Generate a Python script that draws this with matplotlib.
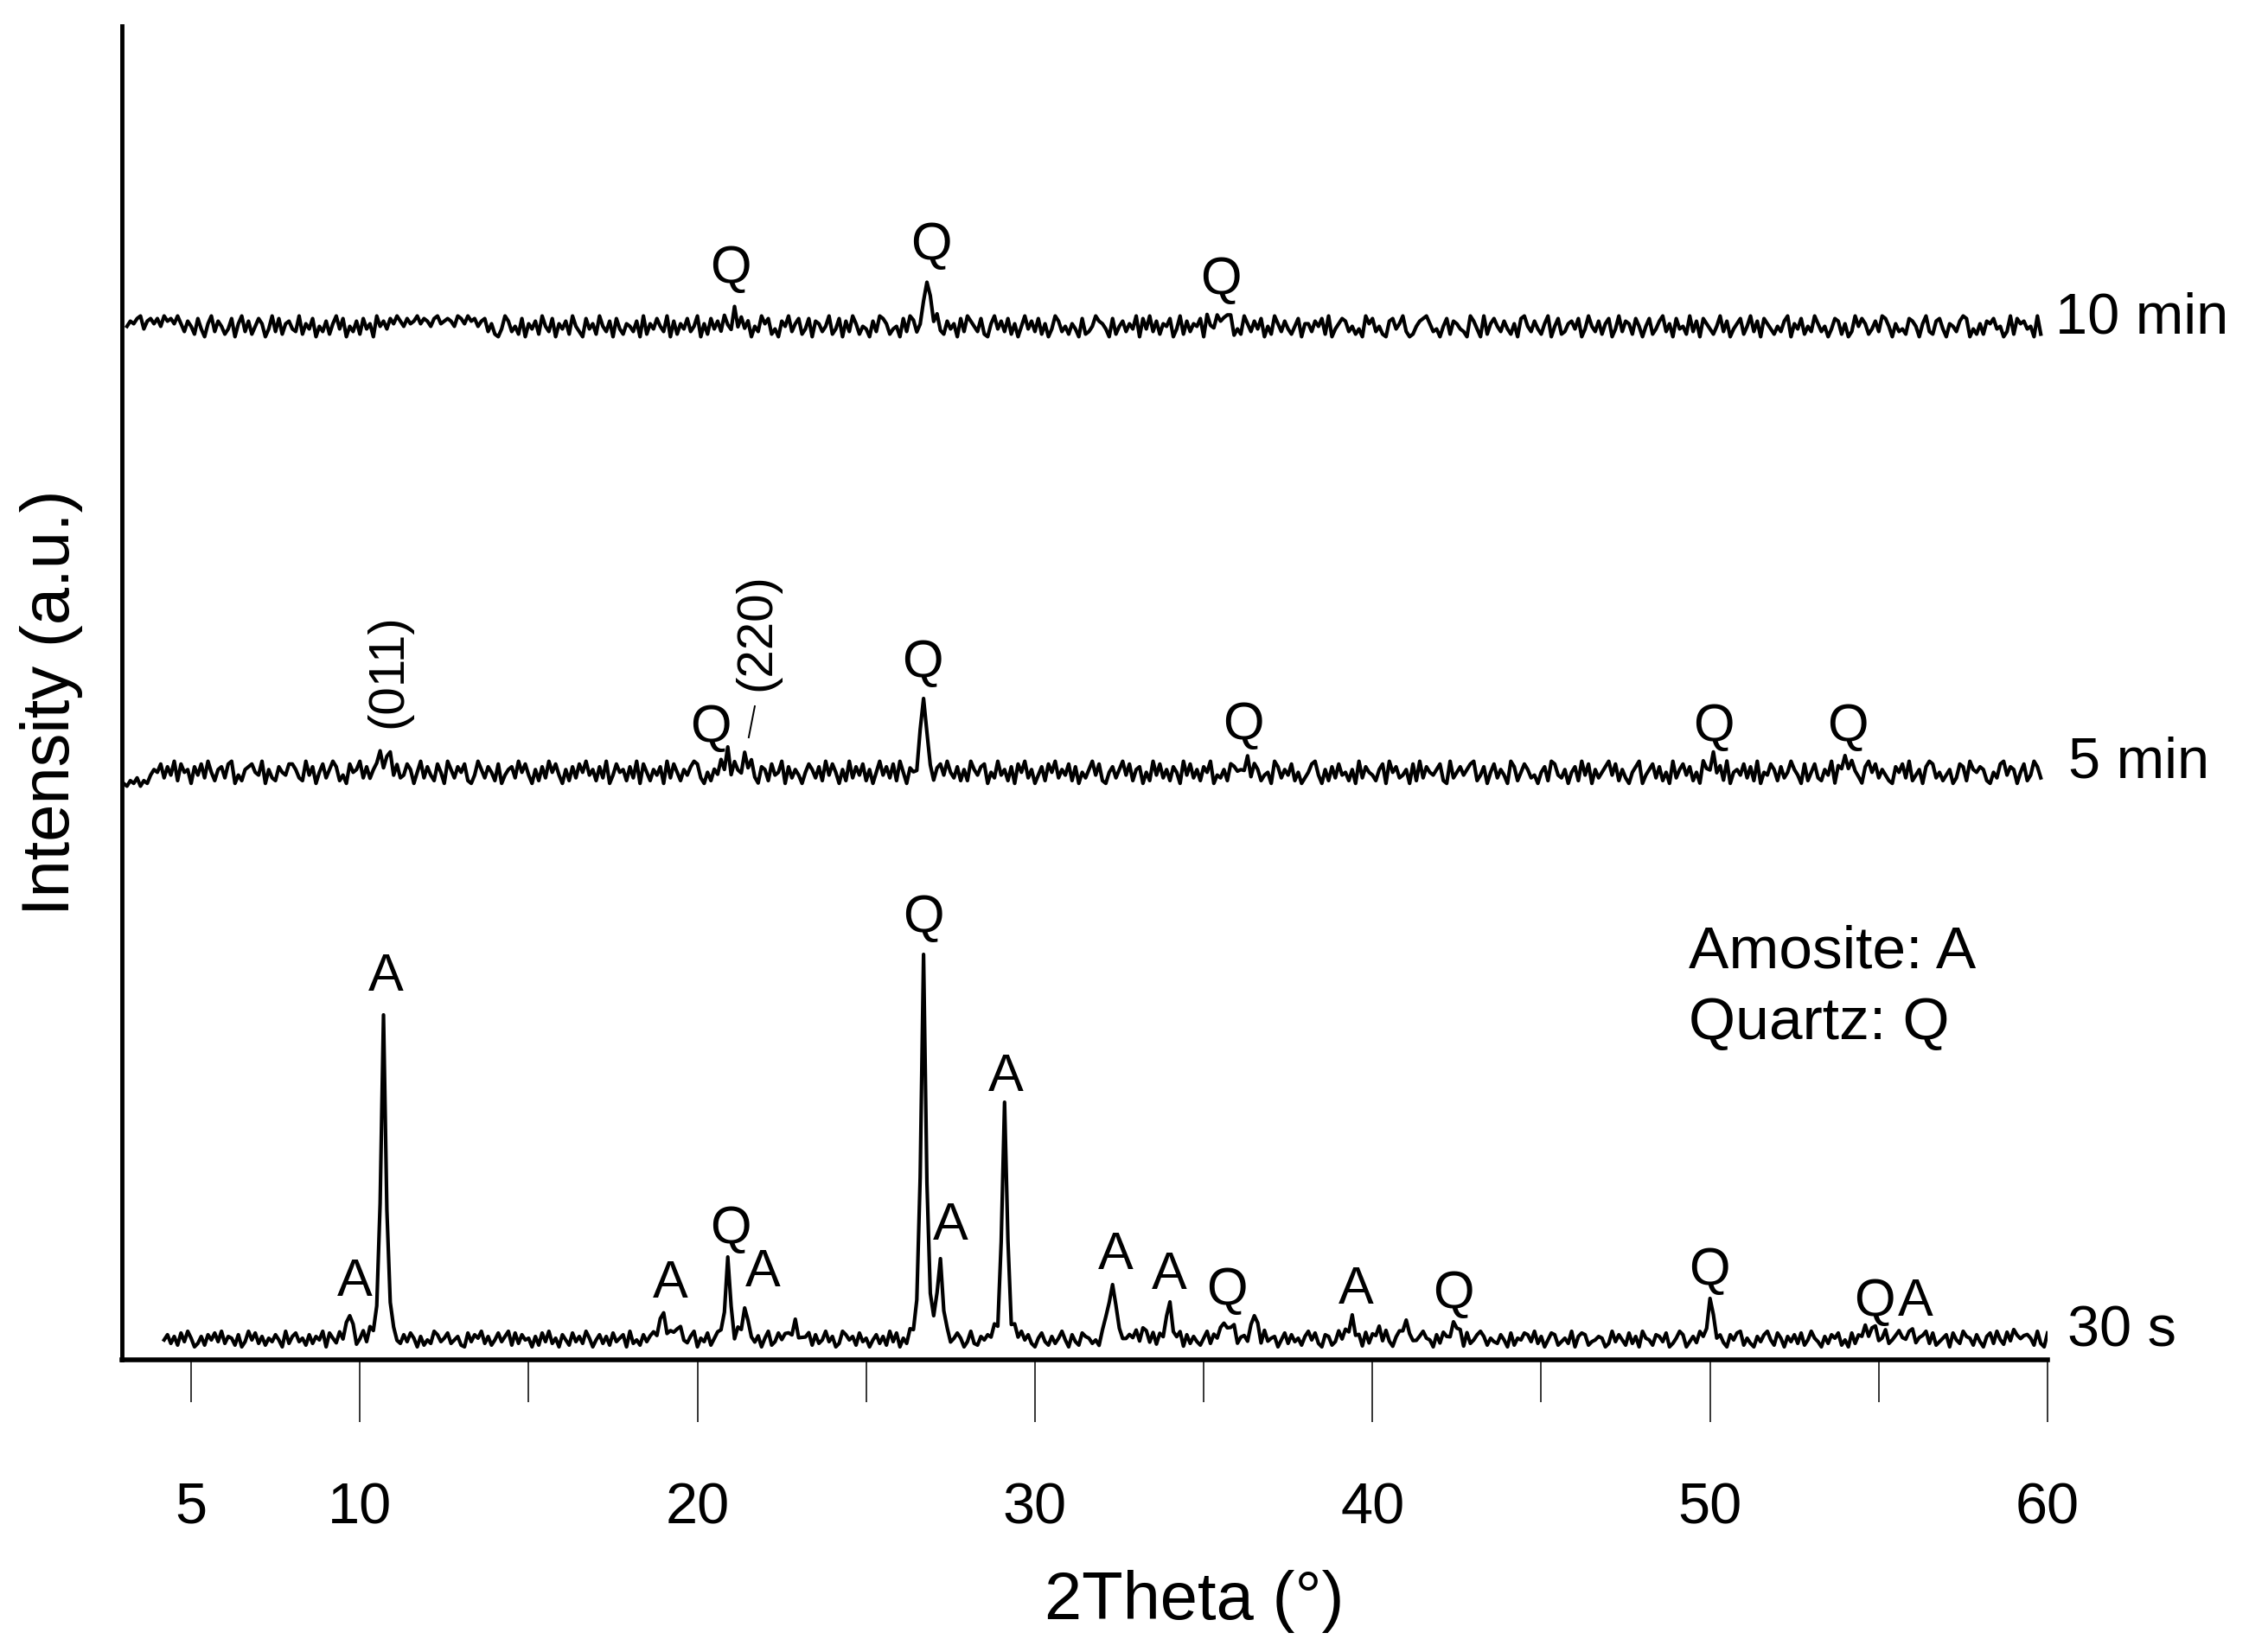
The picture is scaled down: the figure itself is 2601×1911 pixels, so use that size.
import numpy as np
import matplotlib
matplotlib.use("Agg")
from matplotlib import pyplot as plt
from matplotlib.transforms import Bbox, TransformedBbox

plt.rcParams["font.family"] = ["Liberation Sans", "DejaVu Sans"]

# Scans are sampled every 0.1 degree 2Theta. Intensity is in arbitrary units
# (roughly screen pixels above the x axis).
STEP = 0.1

# Peak profile shapes (relative height at -0.4 ... +0.4 deg around the peak).
PROFILES = {
    "s": [0.02, 0.04, 0.09, 0.42, 1.0, 0.42, 0.09, 0.04, 0.02],
    "m": [0.03, 0.1, 0.3, 0.7, 1.0, 0.75, 0.35, 0.1, 0.03],
    "b": [0.15, 0.35, 0.6, 0.85, 1.0, 0.85, 0.6, 0.35, 0.15],
}

# ---- 30 s ----
START_30S, END_30S = 4.2, 60.0
BASE_30S, NOISE_AMP_30S = 24, 2.0
NOISE_30S = (
    "47261 83950 26174 83926 51703 94826 15374 09268 35172 64908"
    "52837 16049 38275 61940 27385 06142 97358 24610 83759 26148"
    "36918 27450 61839 25074 18362 95047 26183 57092 41736 85920"
    "74183 26905 38147 62950 81374 26059 13847 62903 58172 49360"
    "29746 18350 47261 93805 26174 30958 62714 85039 21647 38059"
    "61839 47205 83162 59407 31865 24079 68312 47590 36281 74950"
    "48072 63159 27486 03915 62748 19356 04827 35169 48207 61394"
    "93516 08274 61930 57482 13695 40728 51369 08247 96153 27408"
    "15487 39260 48713 52906 87134 65029 37418 26095 41763 80259"
    "70362 84159 36207 48915 20637 94185 06372 81495 30627 58140"
    "82649 15703 92468 31570 46928 13570 84296 51730 68294 17053"
    "36751 92084 57136 09284 75316 90482 36157 49028 16374 59280"
)
PEAK_POS_30S = [9.7, 10.7, 19.0, 19.4, 20.9, 21.4, 22.9, 26.7, 27.2, 29.1, 32.3,
                33.2, 34.0, 35.7, 36.5, 39.4, 40.2, 41.0, 42.4, 50.0, 54.8, 55.9, 59.0]
PEAK_H_30S = [34, 372, 35, 18, 86, 39, 14, 448, 90, 265, 56,
              16, 42, 22, 28, 27, 12, 15, 23, 46, 12, 8, 10]
PEAK_KIND_30S = ["s", "s", "s", "s", "s", "s", "m", "s", "s", "s", "m",
                 "s", "s", "m", "s", "s", "s", "m", "s", "s", "b", "b", "m"]

# ---- 5 min ----
START_5M, END_5M = 3.0, 59.8
BASE_5M, NOISE_AMP_5M = 678, 3.2
NOISE_5M = (
    "10213 02146 58374 92856 17483 95267 38914 26785 49163 27548"
    "86329 47158 36972 41856 93724 58169 27348 61593 74285 19637"
    "58214 96375 28146 73958 41627 39584 16273 85946 27391 48562"
    "73918 52647 19385 26479 83152 64937 18526 49317 62845 91736"
    "41586 37294 85162 93748 26159 47382 95164 38275 16849 53726"
    "29647 81539 46271 85936 14728 59364 82715 36948 21573 69482"
    "67152 94836 27519 48362 75914 36287 54193 86245 19736 48251"
    "35894 16273 84526 19375 42681 95734 61829 37546 82193 57468"
    "92471 58364 19725 86341 57298 43615 72948 16357 94826 31579"
    "14683 72519 36847 25196 48372 91564 83729 15486 27359 64182"
    "58326 49175 82643 17958 36421 75839 24617 98352 46138 72965"
    "76215 38947 61582 49736 15849 27365 94182 53679 18427 36591"
)
PEAK_POS_5M = [10.7, 20.9, 21.4, 26.7, 36.2, 50.1, 54.1]
PEAK_H_5M = [18, 23, 20, 95, 15, 14, 14]
PEAK_KIND_5M = ["b", "s", "s", "s", "s", "s", "m"]

# ---- 10 min ----
START_10M, END_10M = 3.1, 59.8
BASE_10M, NOISE_AMP_10M = 1194, 3.0
NOISE_10M = (
    "57689 47868 59786 96375 28416 93752 48169 37258 61493 82674"
    "39264 81537 26948 15372 84619 57486 97586 79687 58967 87598"
    "69785 78362 14973 52816 47295 38164 72953 18462 95371 84265"
    "37192 64853 91726 48359 16284 73951 62847 15396 82417 59368"
    "24817 63592 48173 96254 17398 62451 83972 46185 93274 61839"
    "75382 16947 38261 59473 82614 97352 64182 35976 41825 73649"
    "18493 72658 14927 36581 94263 57814 29637 48152 96374 25816"
    "63758 29146 87352 41968 35217 84693 12578 96341 58276 43197"
    "41926 85374 26189 53742 69158 23674 81495 37268 14937 62851"
    "58247 93618 45293 71864 25937 14682 59371 86425 37916 48253"
    "96351 48726 13958 62473 98516 34287 51693 27841 65379 81426"
    "27684 51392 86745 19238 74561 28397 45618 93275 18643 79512"
)
PEAK_POS_10M = [21.1, 26.8, 35.5]
PEAK_H_10M = [20, 63, 12]
PEAK_KIND_10M = ["s", "s", "b"]

# ---- annotations ----
LABELS_30S = ["A", "A", "A", "Q", "A", "Q", "A", "A", "A", "A", "Q", "A", "Q", "Q", "Q", "A"]
LABEL_X_30S = [9.84, 10.76, 19.19, 20.98, 21.93, 26.69, 27.51, 29.15, 32.40, 33.99,
               35.68, 39.52, 42.41, 49.97, 54.88, 56.09]
LABEL_Y_30S = [74, 427, 72, 135, 85, 495, 139, 311, 105, 82, 64, 65, 60, 87, 51, 51]

LABELS_5M = ["Q", "Q", "Q", "Q", "Q"]
LABEL_X_5M = [20.39, 26.66, 36.17, 50.1, 54.09]
LABEL_Y_5M = [715, 790, 718, 716, 716]
PLANES_5M = ["(011)", "(220)"]
PLANE_X_5M = [10.86, 21.77]
PLANE_Y_5M = [797, 842]
LEADER_X_5M = [21.52, 21.70]
LEADER_Y_5M = [720, 756]

LABELS_10M = ["Q", "Q", "Q"]
LABEL_X_10M = [20.98, 26.92, 35.51]
LABEL_Y_10M = [1246, 1273, 1233]

SERIES_NAMES = ["10 min", "5 min", "30 s"]
SERIES_X = [60.24, 60.62, 60.6]
SERIES_Y = [1188, 673, 15]
SERIES_CUT = [False, False, True]

KEY_TEXT = ["Amosite: A", "Quartz: Q"]
KEY_X = 49.38
KEY_Y = [454, 371]


def build_trace(start, end, base, amp, noise, pos, heights, kinds):
    digits = [int(c) for c in noise.replace(" ", "")]
    n = int(round((end - start) / STEP)) + 1
    x = start + STEP * np.arange(n)
    y = base + amp * (np.array(digits[:n], dtype=float) - 4.5)
    for p, h, k in zip(pos, heights, kinds):
        prof = PROFILES[k]
        half = len(prof) // 2
        i0 = int(round((p - start) / STEP))
        for j, f in enumerate(prof):
            idx = i0 - half + j
            if 0 <= idx < n:
                y[idx] += h * f
    return x, y


fig = plt.figure(figsize=(26.01, 19.11), dpi=100)
ax = fig.add_axes([141 / 2601, 1 - 1573 / 1911, (2368 - 141) / 2601, (1573 - 30) / 1911])

traces = [
    (START_30S, END_30S, BASE_30S, NOISE_AMP_30S, NOISE_30S, PEAK_POS_30S, PEAK_H_30S, PEAK_KIND_30S),
    (START_5M, END_5M, BASE_5M, NOISE_AMP_5M, NOISE_5M, PEAK_POS_5M, PEAK_H_5M, PEAK_KIND_5M),
    (START_10M, END_10M, BASE_10M, NOISE_AMP_10M, NOISE_10M, PEAK_POS_10M, PEAK_H_10M, PEAK_KIND_10M),
]
for args in traces:
    x, y = build_trace(*args)
    ax.plot(x, y, color="black", lw=3.0, solid_joinstyle="round")

peak_font = 44
for lab, lx, ly in zip(LABELS_30S, LABEL_X_30S, LABEL_Y_30S):
    ax.text(lx, ly, lab, ha="center", va="baseline", fontsize=peak_font)
for lab, lx, ly in zip(LABELS_5M, LABEL_X_5M, LABEL_Y_5M):
    ax.text(lx, ly, lab, ha="center", va="baseline", fontsize=peak_font)
for lab, lx, ly in zip(LABELS_10M, LABEL_X_10M, LABEL_Y_10M):
    ax.text(lx, ly, lab, ha="center", va="baseline", fontsize=peak_font)
for lab, lx, ly in zip(PLANES_5M, PLANE_X_5M, PLANE_Y_5M):
    ax.text(lx, ly, lab, ha="center", va="center", rotation=90, fontsize=42)
ax.plot(LEADER_X_5M, LEADER_Y_5M, color="black", lw=1.4)

# Sample labels to the right of the traces; the "30 s" one is cut at the figure edge
clip = TransformedBbox(Bbox([[0, 0], [2521 / 2601, 1]]), fig.transFigure)
for name, sx, sy, cut in zip(SERIES_NAMES, SERIES_X, SERIES_Y, SERIES_CUT):
    t = ax.text(sx, sy, name, ha="left", va="baseline", fontsize=48, clip_on=cut)
    if cut:
        t.set_clip_box(clip)

for txt, ky in zip(KEY_TEXT, KEY_Y):
    ax.text(KEY_X, ky, txt, ha="left", va="baseline", fontsize=50)

ax.set_xlim(2.95, 60)
ax.set_ylim(0, 1543)
ax.set_yticks([])
ax.set_xticks([10, 20, 30, 40, 50, 60])
ax.set_xticks([5, 15, 25, 35, 45, 55], labels=["5", "", "", "", "", ""], minor=True)
ax.tick_params(axis="x", which="major", direction="out", length=52, width=1.1,
               pad=50, labelsize=48)
ax.tick_params(axis="x", which="minor", direction="out", length=35, width=1.1,
               pad=66, labelsize=48)

for side in ("top", "right"):
    ax.spines[side].set_visible(False)
ax.spines["left"].set_linewidth(3.5)
ax.spines["bottom"].set_linewidth(4)

ax.set_xlabel("2Theta (°)", fontsize=56, va="center")
ax.xaxis.set_label_coords(0.557, -0.181)
ax.set_ylabel("Intensity (a.u.)", fontsize=56, va="center")
ax.yaxis.set_label_coords(-0.0364, 0.4925)

fig.savefig("out.png", dpi=100)
